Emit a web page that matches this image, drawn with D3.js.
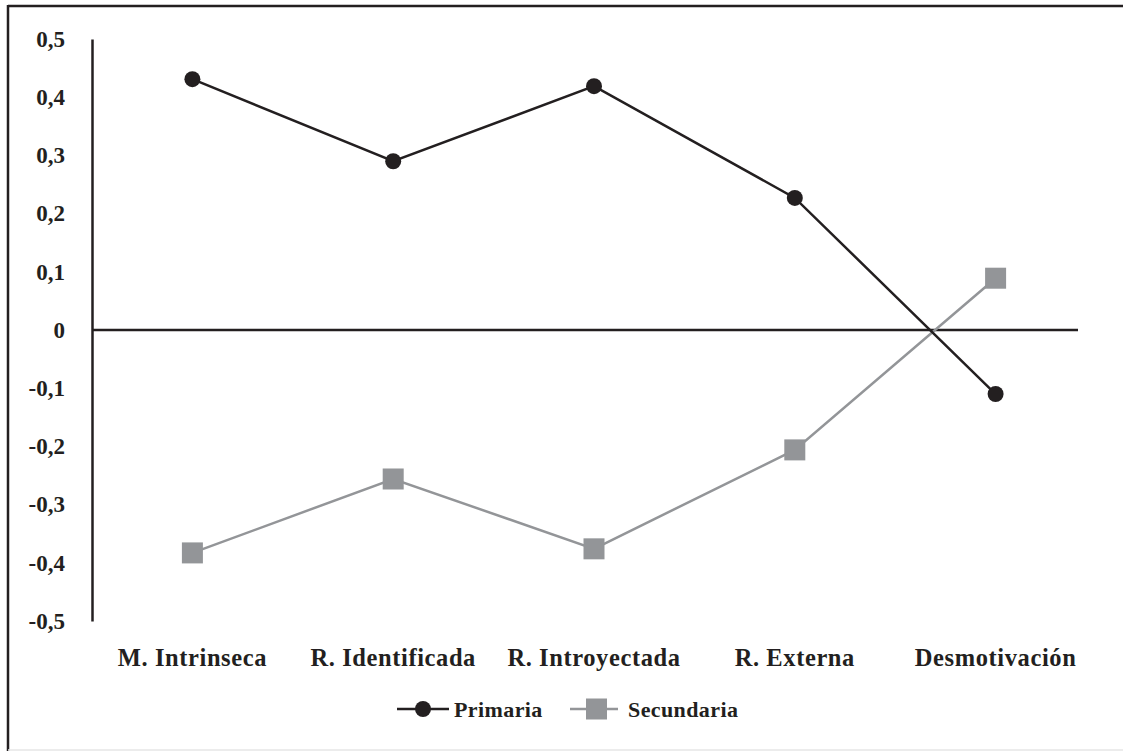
<!DOCTYPE html>
<html>
<head>
<meta charset="utf-8">
<script src="https://cdn.jsdelivr.net/npm/d3@7"></script>
<style>
  body { margin: 0; background: #fff; }
  text { font-family: "Liberation Serif", "DejaVu Serif", serif; font-weight: bold; fill: #231f20; }
</style>
</head>
<body>
<div class="chart"></div>
<script>
// data
const categories = ['M. Intrinseca', 'R. Identificada', 'R. Introyectada', 'R. Externa', 'Desmotivación'];
const primaria = [0.431, 0.290, 0.419, 0.227, -0.110];
const secundaria = [-0.383, -0.256, -0.376, -0.206, 0.089];
const yTicks = [0.5, 0.4, 0.3, 0.2, 0.1, 0, -0.1, -0.2, -0.3, -0.4, -0.5];
const seriesNames = ['Primaria', 'Secundaria'];

const width = 1123, height = 751;
const dark = '#231f20', grey = '#939598';

const svg = d3.select('.chart')
  .append('svg')
  .attr('width', width)
  .attr('height', height);

// frame (top + left dark, bottom faint)
svg.append('line').attr('x1', 8).attr('x2', width).attr('y1', 6).attr('y2', 6)
  .attr('stroke', dark).attr('stroke-width', 2.5);
svg.append('line').attr('x1', 8).attr('x2', 8).attr('y1', 5).attr('y2', height)
  .attr('stroke', dark).attr('stroke-width', 2.5);
svg.append('line').attr('x1', 8).attr('x2', width).attr('y1', 750).attr('y2', 750)
  .attr('stroke', '#e6e6e6').attr('stroke-width', 1.5);

const x = d3.scalePoint()
  .domain(categories)
  .range([92, 1096])
  .padding(0.5);

const y = d3.scaleLinear()
  .domain([-0.5, 0.5])
  .range([621, 39]);

const locale = d3.formatLocale({decimal: ',', thousands: '.', grouping: [3], currency: ['', '€'], minus: '-'});
const fmt = locale.format('.1f');

// y axis
const yAxis = d3.axisLeft(y)
  .tickValues(yTicks)
  .tickSize(0)
  .tickPadding(27)
  .tickFormat(d => d === 0 ? '0' : fmt(d));

const yAxisGroup = svg.append('g')
  .attr('transform', 'translate(92, 0)')
  .call(yAxis);
yAxisGroup.select('.domain').attr('stroke', dark).attr('stroke-width', 2.5);
yAxisGroup.selectAll('text')
  .attr('font-family', '"Liberation Serif", serif')
  .attr('font-size', 23)
  .attr('font-weight', 'bold')
  .attr('fill', dark);

// zero line
svg.append('line')
  .attr('x1', 92).attr('x2', 1078)
  .attr('y1', y(0)).attr('y2', y(0))
  .attr('stroke', dark).attr('stroke-width', 2.5);

// category labels
svg.selectAll('.cat')
  .data(categories)
  .enter().append('text')
    .attr('class', 'cat')
    .attr('x', d => x(d))
    .attr('y', 666)
    .attr('text-anchor', 'middle')
    .attr('font-size', 24.5)
    .attr('letter-spacing', 0.6)
    .text(d => d);

const line = d3.line()
  .x((d, i) => x(categories[i]))
  .y(d => y(d));

// secundaria first (under)
svg.append('path')
  .attr('d', line(secundaria))
  .attr('fill', 'none')
  .attr('stroke', grey)
  .attr('stroke-width', 2.5);

svg.append('path')
  .attr('d', line(primaria))
  .attr('fill', 'none')
  .attr('stroke', dark)
  .attr('stroke-width', 2.5);

svg.selectAll('.sq')
  .data(secundaria)
  .enter().append('rect')
    .attr('class', 'sq')
    .attr('x', (d, i) => x(categories[i]) - 10.5)
    .attr('y', d => y(d) - 10.5)
    .attr('width', 21)
    .attr('height', 21)
    .attr('fill', grey);

svg.selectAll('.dot')
  .data(primaria)
  .enter().append('circle')
    .attr('class', 'dot')
    .attr('cx', (d, i) => x(categories[i]))
    .attr('cy', d => y(d))
    .attr('r', 8)
    .attr('fill', dark);

// legend
const legend = svg.append('g').attr('transform', 'translate(397, 709)');
const leg1 = legend.append('g');
leg1.append('line').attr('x1', 0).attr('x2', 52).attr('y1', 0).attr('y2', 0)
  .attr('stroke', dark).attr('stroke-width', 2.5);
leg1.append('circle').attr('cx', 26).attr('cy', 0).attr('r', 8).attr('fill', dark);
leg1.append('text').attr('x', 57).attr('y', 7.5).attr('font-size', 22).attr('letter-spacing', 0.4).text(seriesNames[0]);

const leg2 = legend.append('g').attr('transform', 'translate(173, 0)');
leg2.append('line').attr('x1', 0).attr('x2', 48).attr('y1', 0).attr('y2', 0)
  .attr('stroke', grey).attr('stroke-width', 2.5);
leg2.append('rect').attr('x', 16).attr('y', -10.5).attr('width', 21).attr('height', 21).attr('fill', grey);
leg2.append('text').attr('x', 58).attr('y', 7.5).attr('font-size', 22).attr('letter-spacing', 0.4).text(seriesNames[1]);
</script>
</body>
</html>
